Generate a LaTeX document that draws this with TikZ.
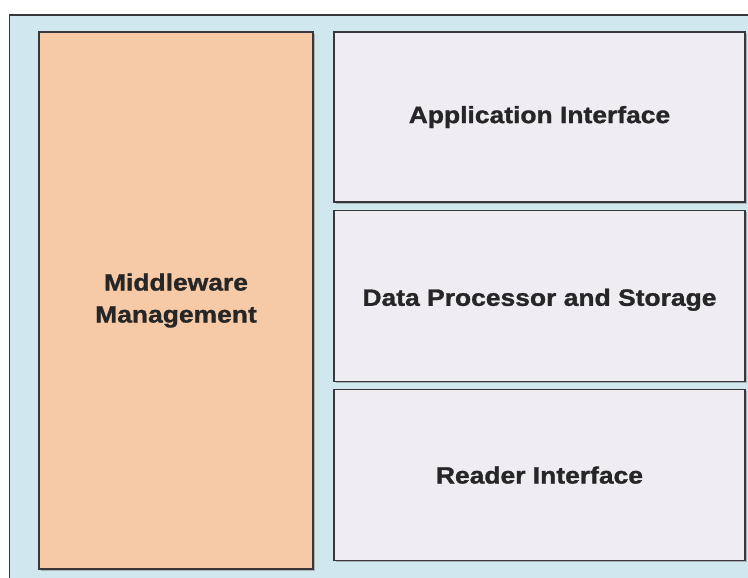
\documentclass[tikz,border=0pt]{standalone}
\usepackage{fontspec}
\setmainfont{Liberation Sans}[FakeStretch=1.12, BoldFeatures={FakeBold=1.2}]
\usetikzlibrary{positioning,shadows}
\definecolor{framebg}{RGB}{208,232,237}
\definecolor{mgmtfill}{RGB}{246,202,166}
\definecolor{layerfill}{RGB}{239,237,242}
\definecolor{edgegray}{RGB}{55,55,60}
\tikzset{
	layer/.style={draw=edgegray, line width=1.3pt, fill=layerfill,
		minimum width=411pt, minimum height=170pt, align=center,
		drop shadow={shadow xshift=1.6pt, shadow yshift=-1.6pt, opacity=0.5, fill=gray}},
	label text/.style={font=\fontsize{23.6}{32}\selectfont\bfseries, text=black!85}
}

\begin{document}
\begin{tikzpicture}[x=1pt, y=-1pt]
	\useasboundingbox (0,0) rectangle (748,578);
	\clip (0,0) rectangle (748,578);
	% outer frame
	\draw[draw=edgegray, line width=1.3pt, fill=framebg] (9.5,15) rectangle (770,600);
	% middleware column
	\node[layer, label text, fill=mgmtfill, minimum width=274pt, minimum height=537pt]
		(mgmt) at (176,300.5) {Middleware\\Management};
	% layers on the right
	\node[layer, label text] (app) at (539.5,117) {Application Interface};
	\node[layer, label text, minimum height=171pt, text height=20pt, text depth=0pt,
		below=7pt of app] (proc) {Data Processor and Storage};
	\node[layer, label text, minimum height=171pt, below=7pt of proc] (reader) {Reader Interface};
\end{tikzpicture}
\end{document}
